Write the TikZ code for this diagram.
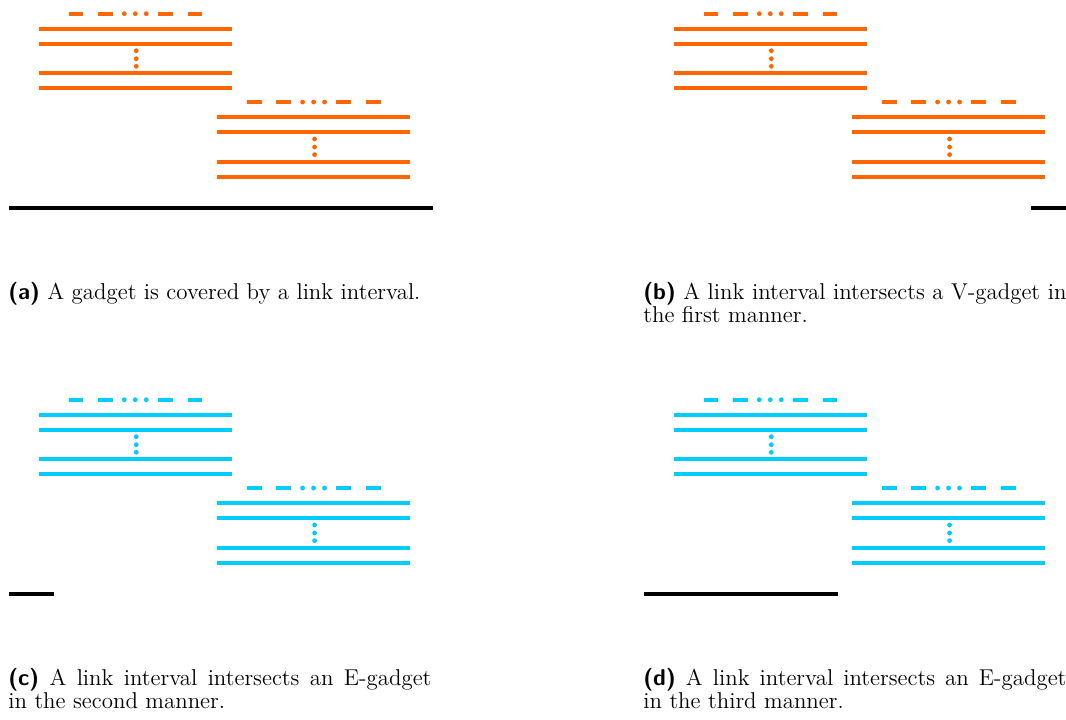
\documentclass[tikz,border=0pt]{standalone}
\usepackage{fix-cm}
\definecolor{gorange}{RGB}{255,102,0}
\definecolor{gcyan}{RGB}{0,204,255}
\tikzset{
  gline/.style={line width=2.1pt, line cap=butt},
  linkline/.style={line width=2.25pt, black},
  capt/.style={anchor=north west, inner sep=0pt, text width=220pt, align=justify, font=\fontsize{11.9}{12.1}\selectfont},
  gadget/.pic={
    \foreach \yy in {0,15,44.6,59.6}
      \draw[gline,#1] (0,\yy) -- (193,\yy);
    \foreach \yy in {22,30,37.6}
      \fill[#1] (97.3,\yy) circle[radius=1.25pt];
    \draw[gline,#1] (29.7,-15) -- (44.3,-15);
    \draw[gline,#1] (59,-15) -- (74,-15);
    \foreach \xx in {85.3,96.3,107.3}
      \fill[#1] (\xx,-15) circle[radius=1.25pt];
    \draw[gline,#1] (119,-15) -- (133.7,-15);
    \draw[gline,#1] (148.7,-15) -- (163.3,-15);
  }
}
\newcommand{\lab}[1]{{\sffamily\bfseries (#1)}}
\begin{document}
\begin{tikzpicture}[x=0.52pt,y=-0.52pt]
\clip (0,0) rectangle (1066,719);
% panel (a)
\pic at (39,28.7) {gadget=gorange};
\pic at (217.3,117) {gadget=gorange};
\coordinate (a1) at (9,208.3);
\coordinate (a2) at (432.7,208.3);
\draw[linkline] (a1) -- (a2);
\node[capt] (capa) at (8,281.8) {\noindent\lab{a} A gadget is covered by a link interval.};
% panel (b)
\pic at (674,28.7) {gadget=gorange};
\pic at (852.3,117) {gadget=gorange};
\coordinate (b1) at (1031,208.3);
\coordinate (b2) at (1075,208.3);
\draw[linkline] (b1) -- (b2);
\node[capt] (capb) at (643,281.8) {\noindent\lab{b} A link interval intersects a V-gadget in\linebreak the first manner.};
% panel (c)
\pic at (39,414.7) {gadget=gcyan};
\pic at (217.3,503) {gadget=gcyan};
\coordinate (c1) at (9,594.3);
\coordinate (c2) at (54.3,594.3);
\draw[linkline] (c1) -- (c2);
\node[capt] (capc) at (8,667.8) {\noindent\lab{c} A link interval intersects an E-gadget\linebreak in the second manner.};
% panel (d)
\pic at (674,414.7) {gadget=gcyan};
\pic at (852.3,503) {gadget=gcyan};
\coordinate (d1) at (644,594.3);
\coordinate (d2) at (838,594.3);
\draw[linkline] (d1) -- (d2);
\node[capt] (capd) at (643,667.8) {\noindent\lab{d} A link interval intersects an E-gadget\linebreak in the third manner.};
\end{tikzpicture}
\end{document}
